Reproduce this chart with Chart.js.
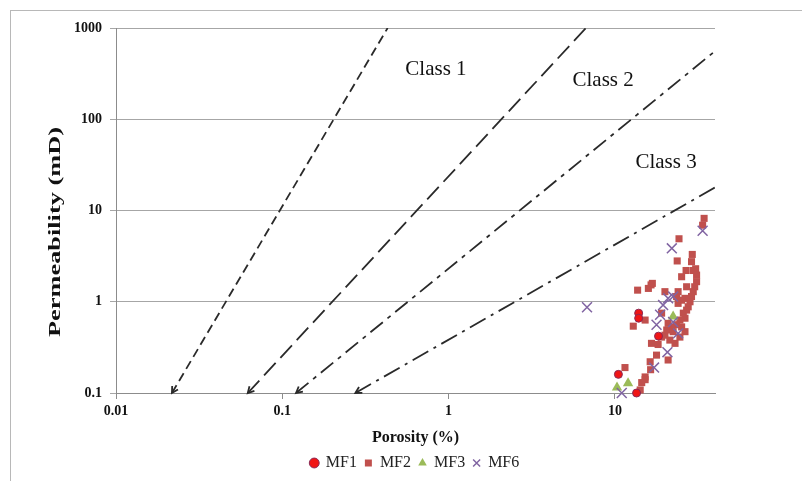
<!DOCTYPE html>
<html>
<head>
<meta charset="utf-8">
<script src="https://cdn.jsdelivr.net/npm/chart.js@4/dist/chart.umd.min.js"></script>
<style>
  html, body { margin: 0; padding: 0; background: #fff; }
  #frame { position: absolute; left: 10px; top: 10px; width: 900px; height: 600px; border: 1px solid #b8b8b8; }
  #wrap { position: absolute; left: 0; top: 0; width: 802px; height: 481px; }
</style>
</head>
<body>
<div id="frame"></div>
<div id="wrap"><canvas id="chart" width="802" height="481"></canvas></div>
<script>
// Porosity (%) / permeability (mD) pairs
const mf1 = [[13.9, 0.75], [13.9, 0.66], [18.3, 0.42], [10.5, 0.16], [13.5, 0.10]];

const mf2 = [
  [34.4, 8.2], [33.7, 6.9], [24.3, 4.9], [29.2, 3.3], [23.7, 2.8], [28.9, 2.75],
  [26.8, 2.2], [29.6, 2.2], [30.6, 2.3], [31.0, 1.96], [31.0, 1.66], [30.2, 1.46],
  [29.6, 1.29], [28.9, 1.14], [28.3, 1.0], [27.6, 0.88], [25.2, 1.88], [16.5, 1.53],
  [15.9, 1.40], [13.7, 1.34], [16.8, 1.59], [27.0, 1.46], [20.0, 1.29], [24.0, 1.29],
  [23.5, 1.14], [26.4, 1.09], [24.0, 0.96], [25.2, 1.04], [27.0, 0.81], [25.8, 0.75],
  [26.4, 0.66], [24.6, 0.63], [23.5, 0.56], [25.2, 0.53], [22.0, 0.53], [20.9, 0.58],
  [20.5, 0.49], [22.4, 0.47], [20.0, 0.43], [19.1, 0.41], [21.4, 0.38], [16.6, 0.35],
  [18.2, 0.34], [23.0, 0.35], [24.6, 0.41], [26.4, 0.47], [19.1, 0.75], [15.2, 0.63],
  [12.9, 0.54], [17.8, 0.26], [20.9, 0.23], [16.3, 0.22], [16.4, 0.18], [11.5, 0.19],
  [15.2, 0.15], [15.2, 0.14], [14.5, 0.13], [14.2, 0.108]
];

const mf3 = [[22.4, 0.69], [10.3, 0.115], [12.0, 0.128]];

const mf6 = [
  [33.7, 6.0], [22.0, 3.85], [6.8, 0.87], [22.4, 1.14], [20.9, 1.09], [19.5, 0.92],
  [18.7, 0.72], [17.8, 0.56], [22.4, 0.60], [24.0, 0.45], [20.7, 0.28], [17.2, 0.19],
  [11.0, 0.10]
];

// class boundary lines: lower end and upper end
const classLine1 = [[0.0217, 0.1], [0.43, 1000]];
const classLine2 = [[0.062, 0.1], [6.7, 1000]];
const classLine3 = [[0.121, 0.1], [40, 558]];
const classLine4 = [[0.275, 0.1], [40, 17.9]];

const classNames = ['Class 1', 'Class 2', 'Class 3'];
const classLabelX = [0.84, 8.5, 20.3];
const classLabelY = [347, 269, 34];

const xTicks = [0.01, 0.1, 1, 10];
const yTicks = [0.1, 1, 10, 100, 1000];

const yTitle = 'Permeability (mD)';

const SERIF = "'Liberation Serif', 'Times New Roman', serif";

const toPts = arr => arr.map(p => ({ x: p[0], y: p[1] }));

function boundary(data, dash) {
    return {
        label: 'boundary',
        data: toPts(data),
        showLine: true,
        borderColor: '#2a2a2a',
        borderWidth: 1.8,
        borderDash: dash,
        pointRadius: 0,
        pointHoverRadius: 0,
        fill: false,
        order: 5
    };
}

// small open arrow heads at the lower end of each boundary line
const arrowHeads = {
    id: 'arrowHeads',
    afterDatasetsDraw(chart) {
        const ctx = chart.ctx;
        chart.data.datasets.forEach((ds, i) => {
            if (ds.label !== 'boundary') return;
            const pts = chart.getDatasetMeta(i).data;
            const a = pts[0], b = pts[1];
            const ang = Math.atan2(a.y - b.y, a.x - b.x);
            const len = 7;
            ctx.save();
            ctx.strokeStyle = '#2a2a2a';
            ctx.lineWidth = 1.8;
            ctx.beginPath();
            ctx.moveTo(a.x - len * Math.cos(ang - 0.5), a.y - len * Math.sin(ang - 0.5));
            ctx.lineTo(a.x, a.y);
            ctx.lineTo(a.x - len * Math.cos(ang + 0.5), a.y - len * Math.sin(ang + 0.5));
            ctx.stroke();
            ctx.restore();
        });
    }
};

const classLabels = {
    id: 'classLabels',
    afterDatasetsDraw(chart) {
        const ctx = chart.ctx;
        const sx = chart.scales.x, sy = chart.scales.y;
        ctx.save();
        ctx.font = '21px ' + SERIF;
        ctx.fillStyle = '#111';
        ctx.textAlign = 'center';
        ctx.textBaseline = 'middle';
        classNames.forEach((name, i) => {
            ctx.fillText(name, sx.getPixelForValue(classLabelX[i]), sy.getPixelForValue(classLabelY[i]));
        });
        ctx.restore();
    }
};

// the vertical axis title in the source is drawn stretched along its length
const stretchedYTitle = {
    id: 'stretchedYTitle',
    afterDraw(chart) {
        const ctx = chart.ctx;
        ctx.save();
        ctx.font = 'bold 17px ' + SERIF;
        ctx.fillStyle = '#111';
        ctx.textAlign = 'center';
        ctx.textBaseline = 'middle';
        const w = ctx.measureText(yTitle).width;
        ctx.translate(56, 232);
        ctx.rotate(-Math.PI / 2);
        ctx.scale(210 / w, 1);
        ctx.fillText(yTitle, 0, 0);
        ctx.restore();
    }
};

new Chart(document.getElementById('chart'), {
    type: 'scatter',
    data: {
        datasets: [{
            label: 'MF1',
            data: toPts(mf1),
            pointStyle: 'circle',
            pointRadius: 4,
            backgroundColor: '#f01515',
            borderColor: '#8a2a55',
            borderWidth: 1,
            clip: false,
            order: 1
        }, {
            label: 'MF2',
            data: toPts(mf2),
            pointStyle: 'rect',
            pointRadius: 5,
            backgroundColor: '#c0504d',
            borderColor: '#c0504d',
            borderWidth: 0,
            clip: false,
            order: 4
        }, {
            label: 'MF3',
            data: toPts(mf3),
            pointStyle: 'triangle',
            pointRadius: 6,
            backgroundColor: '#9bbb59',
            borderColor: '#9bbb59',
            borderWidth: 0,
            clip: false,
            order: 3
        }, {
            label: 'MF6',
            data: toPts(mf6),
            pointStyle: 'crossRot',
            pointRadius: 7,
            backgroundColor: '#8064a2',
            borderColor: '#8064a2',
            borderWidth: 1.5,
            clip: false,
            order: 2
        },
        boundary(classLine1, [9, 5]),
        boundary(classLine2, [17, 7]),
        boundary(classLine3, [16, 6, 4, 6]),
        boundary(classLine4, [18, 6, 3, 6])
        ]
    },
    options: {
        responsive: false,
        animation: false,
        layout: {
            padding: { left: 30, top: 28, right: 2, bottom: 0 }
        },
        plugins: {
            tooltip: { enabled: false },
            legend: {
                position: 'bottom',
                labels: {
                    usePointStyle: true,
                    boxWidth: 7,
                    boxHeight: 7,
                    padding: 8,
                    color: '#222',
                    font: { family: SERIF, size: 16 },
                    filter: item => item.text !== 'boundary',
                    sort: (a, b) => a.datasetIndex - b.datasetIndex
                }
            }
        },
        scales: {
            x: {
                type: 'logarithmic',
                min: 0.01,
                max: 40,
                afterBuildTicks: s => { s.ticks = xTicks.map(v => ({ value: v })); },
                afterFit: s => { s.height = 54; },
                border: { display: true, color: '#8c8c8c' },
                grid: { drawOnChartArea: false, drawTicks: true, tickLength: 6, color: '#8c8c8c' },
                ticks: {
                    padding: 4,
                    color: '#111',
                    autoSkip: false,
                    maxRotation: 0,
                    font: { family: SERIF, size: 14, weight: 'bold' },
                    callback: v => String(v)
                },
                title: {
                    display: true,
                    text: 'Porosity (%)',
                    color: '#111',
                    padding: { top: 0, bottom: 0 },
                    font: { family: SERIF, size: 16, weight: 'bold' }
                }
            },
            y: {
                type: 'logarithmic',
                min: 0.1,
                max: 1000,
                afterBuildTicks: s => { s.ticks = yTicks.map(v => ({ value: v })); },
                afterFit: s => { s.width = 86; },
                border: { display: true, color: '#8c8c8c' },
                grid: { color: '#a6a6a6', tickLength: 6, drawTicks: true },
                ticks: {
                    padding: 8,
                    color: '#111',
                    font: { family: SERIF, size: 14, weight: 'bold' },
                    callback: v => String(v)
                },
                title: { display: false }
            },
            // empty right-hand box so the legend centres under the plot
            yRight: {
                type: 'linear',
                position: 'right',
                display: true,
                afterFit: s => { s.width = 85; },
                border: { display: false },
                grid: { display: false },
                ticks: { display: false }
            }
        }
    },
    plugins: [arrowHeads, classLabels, stretchedYTitle]
});
</script>
</body>
</html>
